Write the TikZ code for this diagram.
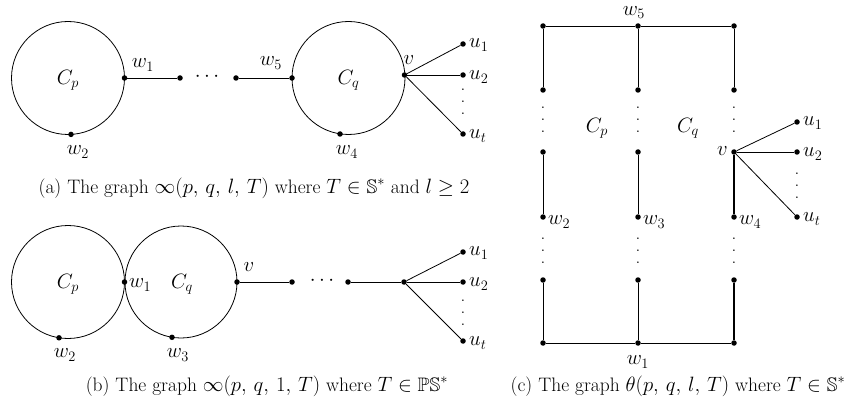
\documentclass[tikz,border=0pt]{standalone}
\usepackage{amssymb}
\newcommand\myvd{\vbox{\baselineskip12pt\lineskiplimit0pt\hbox{.}\hbox{.}\hbox{.}}}
\begin{document}
\begin{tikzpicture}[x=1pt,y=-1pt,
  dot/.style={circle,fill=black,inner sep=0pt,minimum size=5.5pt},
  cyc/.style={circle,draw=black,line width=0.8pt,inner sep=0pt},
  lab/.style={inner sep=0pt,font=\fontsize{20}{22}\selectfont},
  vd/.style={inner sep=0pt,font=\fontsize{19}{21}\selectfont},
  captxt/.style={inner sep=0pt,font=\fontsize{19.5}{22}\selectfont},
  ln/.style={line width=0.8pt},
  thickln/.style={line width=1.3pt}]
\useasboundingbox (0,0) rectangle (848,406);

% ---------- (a) ----------
\node[cyc,minimum size=113pt] (cpA) at (68,78) {};
\node[lab] (cpAl) at (68,80) {$C_p$};
\node[cyc,minimum size=113pt] (cqA) at (348.5,78) {};
\node[lab] (cqAl) at (348.5,80) {$C_q$};
\node[dot] (aw1) at (124.5,78) {};
\node[dot] (aw2) at (71,134.4) {};
\node[dot] (ax1) at (180,78) {};
\node[dot] (ax2) at (236,78) {};
\node[dot] (aw5) at (292,78) {};
\node[dot] (aw4) at (340,134) {};
\node[dot] (av) at (404.5,75) {};
\node[dot] (au1) at (463,44) {};
\node[dot] (au2) at (463,75) {};
\node[dot] (aut) at (463,134) {};
\draw[ln] (aw1) -- (ax1);
\draw[ln] (ax2) -- (aw5);
\draw[ln] (av) -- (au1);
\draw[ln] (av) -- (au2);
\draw[ln] (av) -- (aut);
\node[lab] (aw1l) at (143,65) {$w_1$};
\node[lab] (aw2l) at (78,152) {$w_2$};
\node[lab] (aw5l) at (271,63) {$w_5$};
\node[lab] (aw4l) at (347,152) {$w_4$};
\node[lab] (avl) at (409,60) {$v$};
\node[lab,anchor=west] (au1l) at (469,45) {$u_1$};
\node[lab,anchor=west] (au2l) at (469,77) {$u_2$};
\node[lab,anchor=west] (autl) at (469,136) {$u_t$};
\node[lab] (acd) at (207,77) {$\cdots$};
\node[vd] (avd) at (463,102) {\myvd};
\node[captxt] (capa) at (254,188) {(a) The graph $\infty(p,\,q,\,l,\,T)$ where $T\in\mathbb{S}^{*}$ and $l\geq 2$};

% ---------- (b) ----------
\node[cyc,minimum size=113pt] (cpB) at (68,282) {};
\node[lab] (cpBl) at (68,284) {$C_p$};
\node[cyc,minimum size=112pt] (cqB) at (181,282) {};
\node[lab] (cqBl) at (182,284) {$C_q$};
\node[dot] (bw1) at (124.5,282) {};
\node[dot] (bw2) at (59,337.8) {};
\node[dot] (bw3) at (172,337.3) {};
\node[dot] (bv) at (237,282) {};
\node[dot] (bx1) at (292,282) {};
\node[dot] (bx2) at (348,282) {};
\node[dot] (bc) at (404,282) {};
\node[dot] (bu1) at (463,252) {};
\node[dot] (bu2) at (463,282) {};
\node[dot] (but) at (463,341) {};
\draw[ln] (bv) -- (bx1);
\draw[ln] (bx2) -- (bc);
\draw[ln] (bc) -- (bu1);
\draw[ln] (bc) -- (bu2);
\draw[ln] (bc) -- (but);
\node[lab,anchor=west] (bw1l) at (129,285) {$w_1$};
\node[lab] (bw2l) at (65,355) {$w_2$};
\node[lab] (bw3l) at (178,355) {$w_3$};
\node[lab] (bvl) at (249,267) {$v$};
\node[lab,anchor=west] (bu1l) at (469,253) {$u_1$};
\node[lab,anchor=west] (bu2l) at (469,284) {$u_2$};
\node[lab,anchor=west] (butl) at (469,343) {$u_t$};
\node[lab] (bcd) at (322,281) {$\cdots$};
\node[vd] (bvd) at (463,313) {\myvd};
\node[captxt] (capb) at (267,386) {(b) The graph $\infty(p,\,q,\,1,\,T)$ where $T\in\mathbb{PS}^{*}$};

% ---------- (c) ----------
\node[dot] (ct1) at (543,26) {};
\node[dot] (ct2) at (638,26) {};
\node[dot] (ct3) at (734,26) {};
\node[dot] (cp1) at (543,90) {};
\node[dot] (cp2) at (638,90) {};
\node[dot] (cp3) at (734,90) {};
\node[dot] (cq1) at (543,152) {};
\node[dot] (cq2) at (638,152) {};
\node[dot] (cv) at (734,152) {};
\node[dot] (cw2) at (543,217) {};
\node[dot] (cw3) at (638,217) {};
\node[dot] (cw4) at (734,217) {};
\node[dot] (cs1) at (543,280) {};
\node[dot] (cs2) at (638,280) {};
\node[dot] (cs3) at (734,280) {};
\node[dot] (cb1) at (543,343) {};
\node[dot] (cw1) at (638,343) {};
\node[dot] (cb3) at (734,343) {};
\node[dot] (cu1) at (797,122) {};
\node[dot] (cu2) at (797,152) {};
\node[dot] (cut) at (797,217) {};
\draw[ln] (ct1) -- (ct2);
\draw[ln] (ct2) -- (ct3);
\draw[ln] (ct1) -- (cp1);
\draw[ln] (ct2) -- (cp2);
\draw[ln] (ct3) -- (cp3);
\draw[ln] (cq1) -- (cw2);
\draw[ln] (cq2) -- (cw3);
\draw[thickln] (cv) -- (cw4);
\draw[ln] (cs1) -- (cb1);
\draw[ln] (cs2) -- (cw1);
\draw[thickln] (cs3) -- (cb3);
\draw[ln] (cb1) -- (cw1);
\draw[ln] (cw1) -- (cb3);
\draw[ln] (cv) -- (cu1);
\draw[ln] (cv) -- (cu2);
\draw[ln] (cv) -- (cut);
\node[vd] (cd1) at (543,120) {\myvd};
\node[vd] (cd2) at (638,120) {\myvd};
\node[vd] (cd3) at (734,120) {\myvd};
\node[vd] (cd4) at (543,251) {\myvd};
\node[vd] (cd5) at (638,251) {\myvd};
\node[vd] (cd6) at (734,251) {\myvd};
\node[vd] (cd7) at (797,186) {\myvd};
\node[lab] (cw5l) at (634,12.5) {$w_5$};
\node[lab] (cpl) at (597,128) {$C_p$};
\node[lab] (cql) at (688,128) {$C_q$};
\node[lab,anchor=east] (cvl) at (728,151) {$v$};
\node[lab,anchor=west] (cw2l) at (548,222) {$w_2$};
\node[lab,anchor=west] (cw3l) at (643,222) {$w_3$};
\node[lab,anchor=west] (cw4l) at (739,222) {$w_4$};
\node[lab] (cw1l) at (638,362) {$w_1$};
\node[lab,anchor=west] (cu1l) at (803,123) {$u_1$};
\node[lab,anchor=west] (cu2l) at (803,154) {$u_2$};
\node[lab,anchor=west] (cutl) at (803,219) {$u_t$};
\node[captxt] (capc) at (678,386) {(c) The graph $\theta(p,\,q,\,l,\,T)$ where $T\in\mathbb{S}^{*}$};
\end{tikzpicture}
\end{document}
